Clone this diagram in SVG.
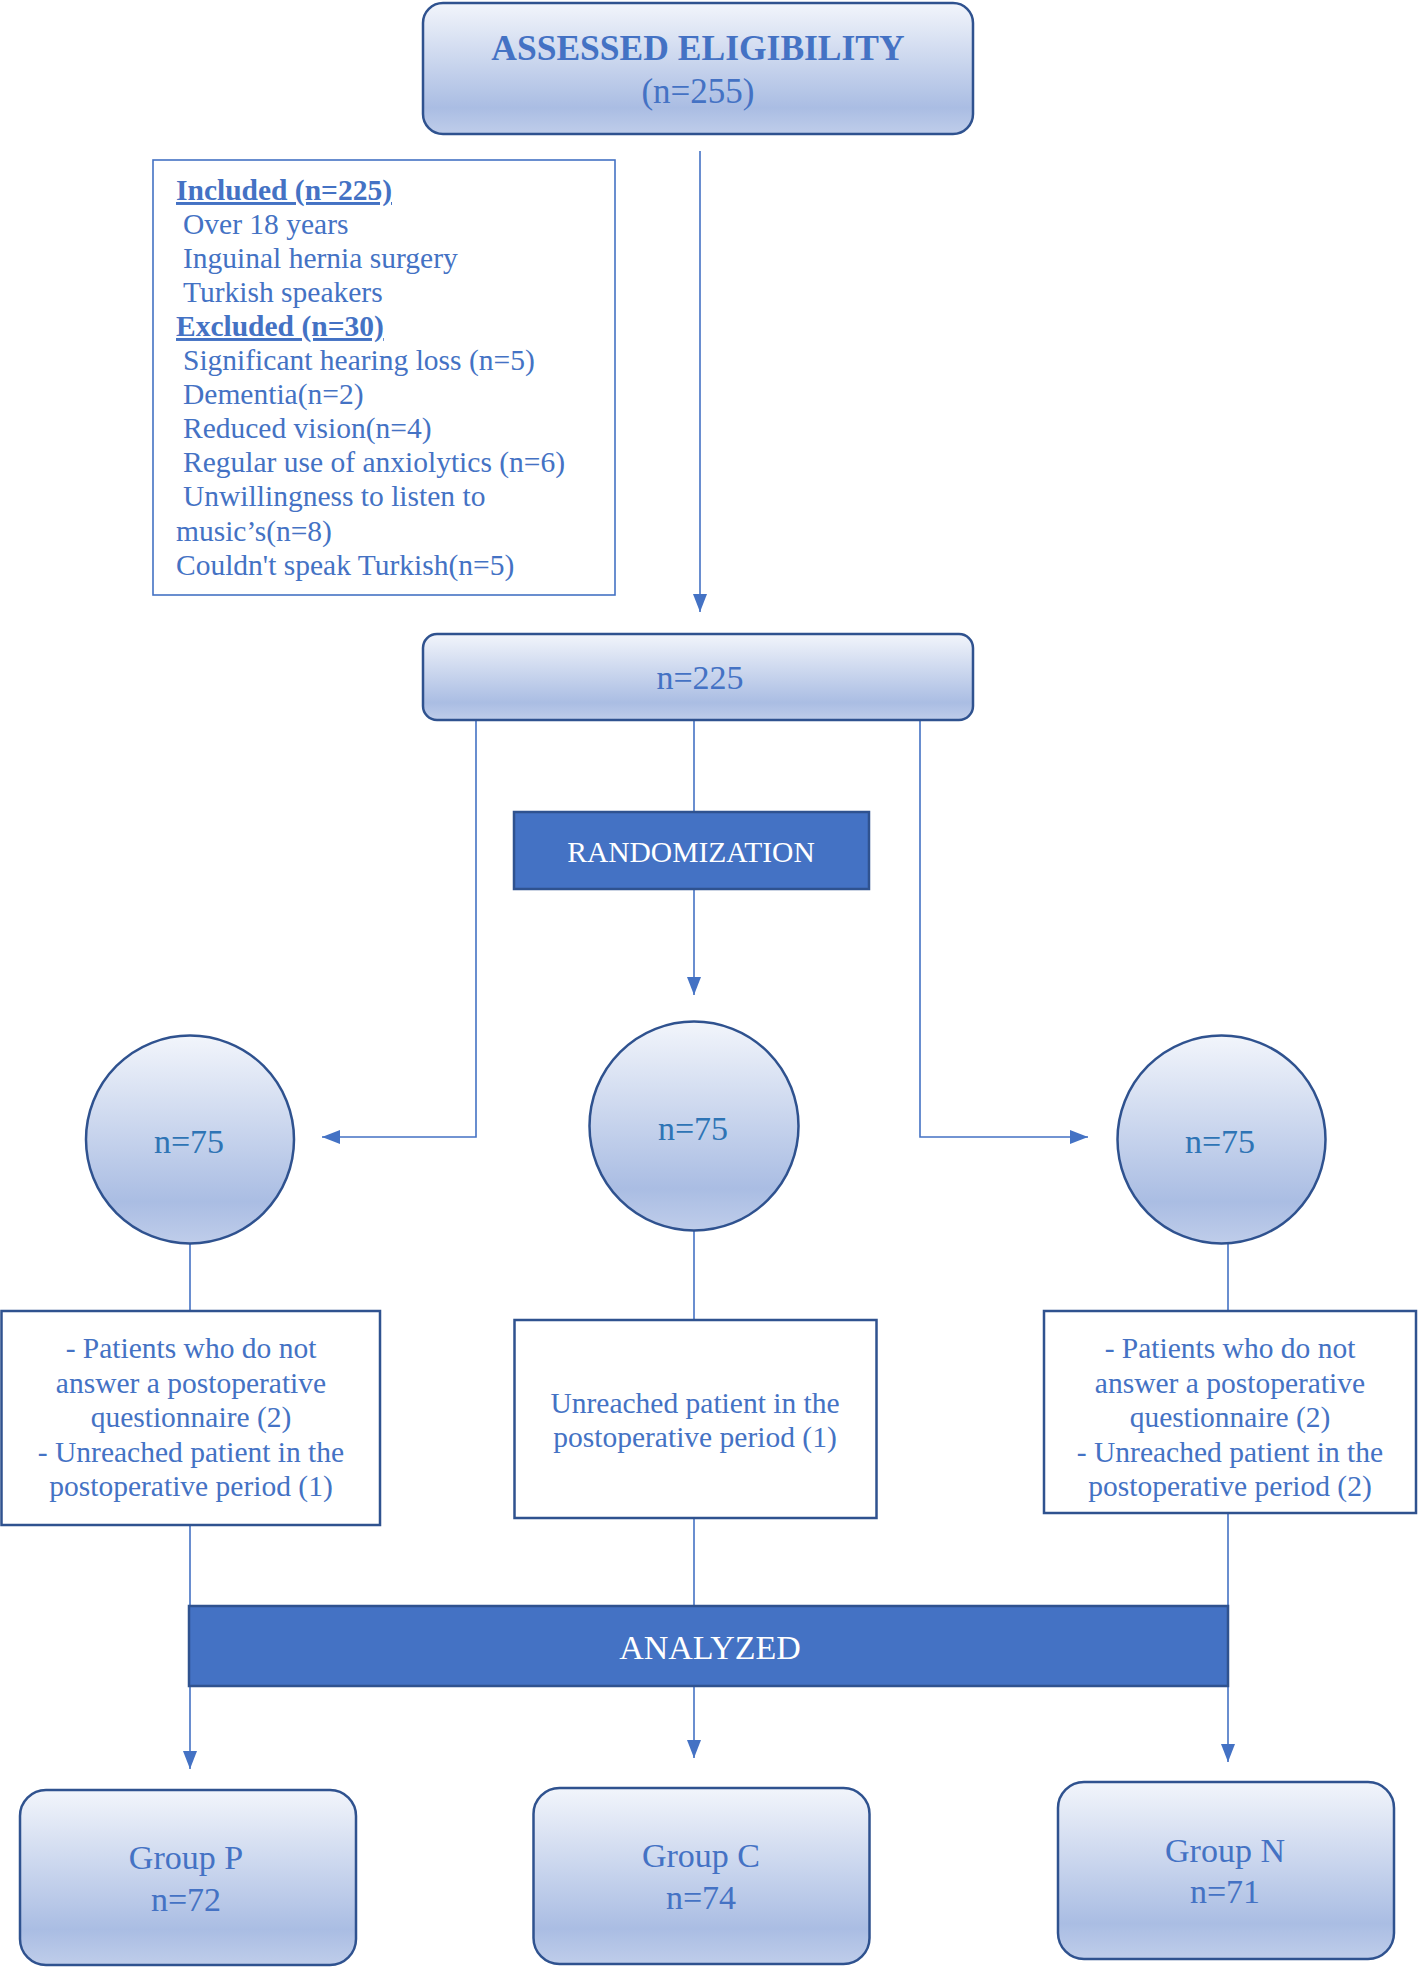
<svg xmlns="http://www.w3.org/2000/svg" width="1418" height="1968" viewBox="0 0 1418 1968">
<style>
text{font-family:"Liberation Serif","Times New Roman",serif;fill:#4472C4}
.grad{fill:url(#g);stroke:#2F528F;stroke-width:2.5}
.box{fill:#fff;stroke:#2F528F;stroke-width:2.5}
.dark{fill:#4472C4;stroke:#2F528F;stroke-width:2.5}
.c{text-anchor:middle}
.big{font-size:34px}
.mid{font-size:29.5px}
.w{fill:#fff}
.circ{fill:#2E74B5}
.conn{fill:none;stroke:#4472C4;stroke-width:1.6}
</style>
<defs>
<linearGradient id="g" x1="0" y1="0" x2="0" y2="1">
<stop offset="0" stop-color="#F2F5FB"/>
<stop offset="0.8" stop-color="#AABDE3"/>
<stop offset="1" stop-color="#BFCDEA"/>
</linearGradient>
<marker id="ah" markerUnits="userSpaceOnUse" markerWidth="18" markerHeight="14" refX="18" refY="7" orient="auto">
<path d="M0,0 L18,7 L0,14 z" fill="#4472C4"/>
</marker>
</defs>
<g id="connectors">
<line class="conn" x1="700" y1="151" x2="700" y2="612" marker-end="url(#ah)"/>
<line class="conn" x1="694" y1="720" x2="694" y2="812"/>
<line class="conn" x1="694" y1="889" x2="694" y2="995" marker-end="url(#ah)"/>
<polyline class="conn" points="476,720 476,1137 322,1137" marker-end="url(#ah)"/>
<polyline class="conn" points="920,720 920,1137 1088,1137" marker-end="url(#ah)"/>
<line class="conn" x1="190" y1="1244" x2="190" y2="1311"/>
<line class="conn" x1="694" y1="1231" x2="694" y2="1320"/>
<line class="conn" x1="1228" y1="1244" x2="1228" y2="1311"/>
<line class="conn" x1="190" y1="1525" x2="190" y2="1606"/>
<line class="conn" x1="694" y1="1518" x2="694" y2="1606"/>
<line class="conn" x1="1228" y1="1513" x2="1228" y2="1606"/>
<line class="conn" x1="190" y1="1686" x2="190" y2="1769" marker-end="url(#ah)"/>
<line class="conn" x1="694" y1="1686" x2="694" y2="1758" marker-end="url(#ah)"/>
<line class="conn" x1="1228" y1="1686" x2="1228" y2="1762" marker-end="url(#ah)"/>
</g>
<g id="assessed">
<rect class="grad" x="423" y="3" width="550" height="131" rx="20"/>
<text class="c" x="698" y="60" font-size="35.5" font-weight="bold">ASSESSED ELIGIBILITY</text>
<text class="c" x="698" y="103" font-size="35">(n=255)</text>
</g>
<g id="criteria">
<rect x="153" y="160" width="462" height="435" fill="#fff" stroke="#4472C4" stroke-width="1.6"/>
<text class="mid" x="176" y="200" font-weight="bold" text-decoration="underline">Included (n=225)</text>
<text class="mid" x="183" y="234">Over 18 years</text>
<text class="mid" x="183" y="268">Inguinal hernia surgery</text>
<text class="mid" x="183" y="302">Turkish speakers</text>
<text class="mid" x="176" y="336" font-weight="bold" text-decoration="underline">Excluded (n=30)</text>
<text class="mid" x="183" y="370">Significant hearing loss (n=5)</text>
<text class="mid" x="183" y="404">Dementia(n=2)</text>
<text class="mid" x="183" y="438">Reduced vision(n=4)</text>
<text class="mid" x="183" y="472">Regular use of anxiolytics (n=6)</text>
<text class="mid" x="183" y="506">Unwillingness to listen to</text>
<text class="mid" x="176" y="541">music’s(n=8)</text>
<text class="mid" x="176" y="575">Couldn't speak Turkish(n=5)</text>
</g>
<g id="n225">
<rect class="grad" x="423" y="634" width="550" height="86" rx="14"/>
<text class="c big" x="700" y="689">n=225</text>
</g>
<g id="randomization">
<rect class="dark" x="514" y="812" width="355" height="77"/>
<text class="c mid w" x="691" y="862">RANDOMIZATION</text>
</g>
<g id="circleLeft">
<circle class="grad" cx="190" cy="1139.5" r="104"/>
<text class="c big circ" x="189" y="1153">n=75</text>
</g>
<g id="circleMid">
<circle class="grad" cx="694" cy="1126" r="104.5"/>
<text class="c big circ" x="693" y="1140">n=75</text>
</g>
<g id="circleRight">
<circle class="grad" cx="1221.5" cy="1139.5" r="104"/>
<text class="c big circ" x="1220" y="1153">n=75</text>
</g>
<g id="lossLeft">
<rect class="box" x="1.5" y="1311" width="378.5" height="214"/>
<text class="c mid" x="191" y="1358">- Patients who do not</text>
<text class="c mid" x="191" y="1393">answer a postoperative</text>
<text class="c mid" x="191" y="1427">questionnaire (2)</text>
<text class="c mid" x="191" y="1462">- Unreached patient in the</text>
<text class="c mid" x="191" y="1496">postoperative period (1)</text>
</g>
<g id="lossMid">
<rect class="box" x="514.5" y="1320" width="362" height="198"/>
<text class="c mid" x="695" y="1413">Unreached patient in the</text>
<text class="c mid" x="695" y="1447">postoperative period (1)</text>
</g>
<g id="lossRight">
<rect class="box" x="1044" y="1311" width="372" height="202"/>
<text class="c mid" x="1230" y="1358">- Patients who do not</text>
<text class="c mid" x="1230" y="1393">answer a postoperative</text>
<text class="c mid" x="1230" y="1427">questionnaire (2)</text>
<text class="c mid" x="1230" y="1462">- Unreached patient in the</text>
<text class="c mid" x="1230" y="1496">postoperative period (2)</text>
</g>
<g id="analyzed">
<rect class="dark" x="189" y="1606" width="1039" height="80"/>
<text class="c big w" x="710" y="1659">ANALYZED</text>
</g>
<g id="groupP">
<rect class="grad" x="20" y="1790" width="336" height="175" rx="26"/>
<text class="c big" x="186" y="1869">Group P</text>
<text class="c big" x="186" y="1911">n=72</text>
</g>
<g id="groupC">
<rect class="grad" x="533.5" y="1788" width="336" height="176" rx="26"/>
<text class="c big" x="701" y="1867">Group C</text>
<text class="c big" x="701" y="1909">n=74</text>
</g>
<g id="groupN">
<rect class="grad" x="1058" y="1782" width="336" height="177" rx="26"/>
<text class="c big" x="1225" y="1862">Group N</text>
<text class="c big" x="1225" y="1903">n=71</text>
</g>
</svg>
